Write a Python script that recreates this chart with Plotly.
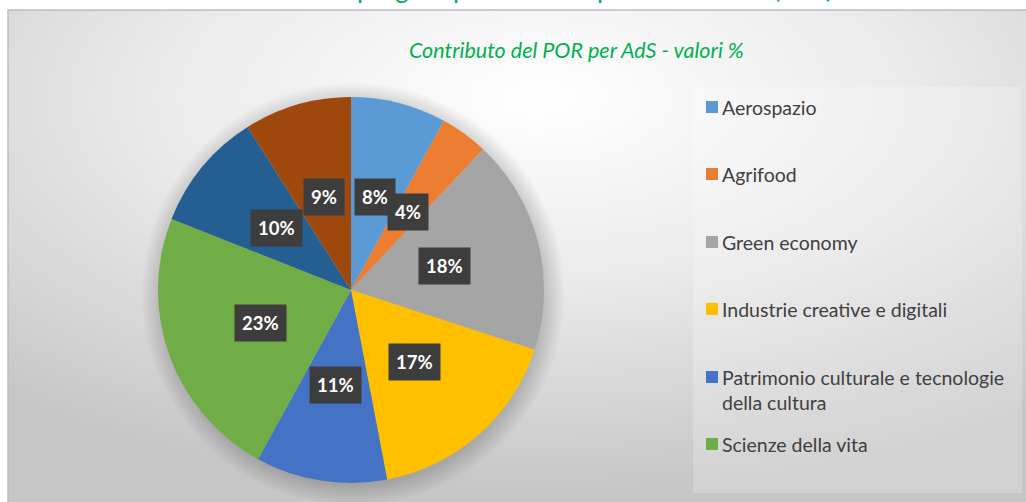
import base64
import math
import plotly.graph_objects as go

# ---- data ----
categories = [
    "Aerospazio",
    "Agrifood",
    "Green economy",
    "Industrie creative e digitali",
    "Patrimonio culturale e tecnologie della cultura",
    "Scienze della vita",
    "Sicurezza",
    "Trasversale",
]
values = [8, 4, 18, 17, 11, 23, 10, 9]
colors = ["#5B9BD5", "#ED7D31", "#A5A5A5", "#FFC000", "#4472C4", "#70AD47", "#255E91", "#9E480E"]
legend_labels = [
    "Aerospazio",
    "Agrifood",
    "Green economy",
    "Industrie creative e digitali",
    "Patrimonio culturale e tecnologie<br>della cultura",
    "Scienze della vita",
]

W, H = 1026, 502
FONT = "Lato"

# pie geometry (pixels)
cx, cy, R = 351, 290, 193
dom_x = [(cx - R) / W, (cx + R) / W]
dom_y = [1 - (cy + R) / H, 1 - (cy - R) / H]

fig = go.Figure()
fig.add_trace(go.Pie(
    labels=categories,
    values=values,
    sort=False,
    direction="clockwise",
    rotation=0,
    marker=dict(colors=colors, line=dict(width=0)),
    textinfo="none",
    hoverinfo="label+percent",
    showlegend=False,
    domain=dict(x=dom_x, y=dom_y),
))

# background gradient (chart area)
svg = (
    '<svg xmlns="http://www.w3.org/2000/svg" width="1018" height="492" preserveAspectRatio="none">'
    '<defs><radialGradient id="g" cx="0.52" cy="0.18" r="0.8">'
    '<stop offset="0" stop-color="#ffffff"/>'
    '<stop offset="0.45" stop-color="#ebebeb"/>'
    '<stop offset="1" stop-color="#c6c6c6"/>'
    '</radialGradient>'
    '<radialGradient id="s" cx="0.5" cy="0.5" r="0.5">'
    '<stop offset="0.9" stop-color="#000000" stop-opacity="0.18"/>'
    '<stop offset="1" stop-color="#000000" stop-opacity="0"/>'
    '</radialGradient></defs>'
    '<rect width="1018" height="492" fill="url(#g)"/>'
    '<circle cx="345" cy="284" r="212" fill="url(#s)"/></svg>'
)
src = "data:image/svg+xml;base64," + base64.b64encode(svg.encode()).decode()
fig.add_layout_image(dict(
    source=src, xref="paper", yref="paper",
    x=8 / W, y=1 - 10 / H, sizex=(W - 8) / W, sizey=(H - 10) / H,
    xanchor="left", yanchor="top", sizing="stretch", layer="below",
))

shapes = [
    # chart border
    dict(type="rect", xref="paper", yref="paper",
         x0=8 / W, x1=1.01, y0=-0.01, y1=1 - 10 / H,
         line=dict(color="#bdbdbd", width=1.5), fillcolor="rgba(0,0,0,0)", layer="below"),
    # legend box
    dict(type="rect", xref="paper", yref="paper",
         x0=693 / W, x1=1022 / W, y0=1 - 493 / H, y1=1 - 87 / H,
         line=dict(width=0), fillcolor="rgba(255,255,255,0.22)", layer="below"),
]

annotations = []
# heading above the chart (clipped at the top edge, as in the reference)
annotations.append(dict(
    text="Grafico 4.7 – Il contributo dei progetti per Area di Specializzazione (AdS) - valori %",
    xref="paper", yref="paper", x=14 / W, y=1 - 6 / H, xanchor="left", yanchor="bottom",
    showarrow=False, font=dict(family=FONT, size=26, color="#00B050"),
))
# title
annotations.append(dict(
    text="<i>Contributo del POR per AdS - valori %</i>",
    xref="paper", yref="paper", x=576 / W, y=1 - 50 / H, xanchor="center", yanchor="middle",
    showarrow=False, font=dict(family=FONT, size=21.5, color="#00B050"),
))

# data labels
total = sum(values)
cum = 0
for v in values:
    mid = (cum + v / 2) / total * 2 * math.pi
    cum += v
    r = 0.5 * R
    px = cx + r * math.sin(mid)
    py = cy - r * math.cos(mid)
    annotations.append(dict(
        text=f"<b>{round(v / total * 100)}%</b>",
        xref="paper", yref="paper", x=px / W, y=1 - py / H,
        xanchor="center", yanchor="middle", showarrow=False,
        font=dict(family=FONT, size=18.5, color="white"),
        bgcolor="#3d3d3d", borderpad=7,
    ))

# legend (manual, as in the clipped reference legend)
leg_y = [107, 174, 242, 309, 377, 444]
for lab, col, y in zip(legend_labels, colors, leg_y):
    shapes.append(dict(type="rect", xref="paper", yref="paper",
                       x0=706 / W, x1=718 / W, y0=1 - (y + 6) / H, y1=1 - (y - 6) / H,
                       line=dict(width=0), fillcolor=col))
    annotations.append(dict(
        text=lab, xref="paper", yref="paper", x=720 / W, y=1 - (y - 13) / H,
        xanchor="left", yanchor="top", align="left", showarrow=False,
        font=dict(family=FONT, size=19.5, color="#404040"),
    ))

fig.update_layout(
    width=W, height=H,
    margin=dict(l=0, r=0, t=0, b=0),
    paper_bgcolor="white",
    plot_bgcolor="white",
    shapes=shapes,
    annotations=annotations,
    showlegend=False,
)

fig.write_html("out.html", config={"displayModeBar": False},
               post_script="document.body.style.margin='0px';")
